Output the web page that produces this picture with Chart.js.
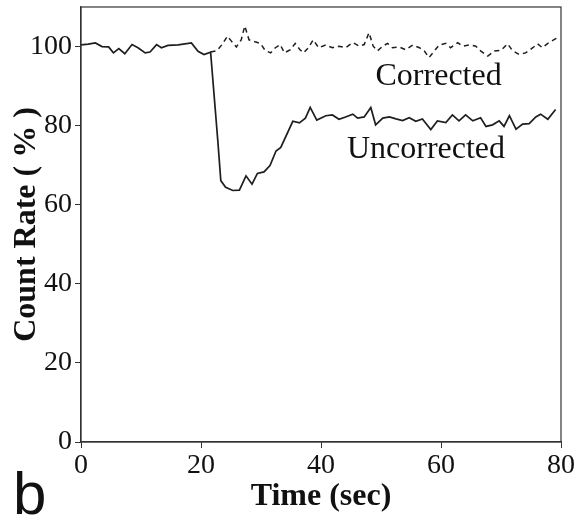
<!DOCTYPE html>
<html>
<head>
<meta charset="utf-8">
<script src="https://cdn.jsdelivr.net/npm/chart.js@4/dist/chart.umd.min.js"></script>
<style>
  html, body { margin: 0; padding: 0; background: #fff; }
  #wrap { width: 587px; height: 519px; }
</style>
</head>
<body>
<div id="wrap"><canvas id="countChart" width="587" height="519"></canvas></div>
<script>
// Uncorrected count rate (solid line)
const tiempoSinCorregir = [0, 1.2, 2.4, 3.5, 4.6, 5.4, 6.3, 7.3, 8.5, 9.5, 10.7, 11.5, 12.6, 13.4, 14.5, 16.2, 18.4, 19.5, 20.5, 21.6,
  22.8, 23.3, 24.1, 25.3, 26.4, 27.5, 28.5, 29.4, 30.5, 31.5, 32.5, 33.3, 35.3, 36.4, 37.4, 38.2, 39.3, 40.8, 41.9, 43.0,
  44.1, 45.3, 46.1, 47.2, 48.3, 49.1, 50.3, 51.4, 52.5, 53.6, 54.7, 55.8, 56.9, 58.3, 59.4, 60.8, 61.9, 63.0, 64.1, 65.3,
  66.6, 67.5, 68.6, 69.7, 70.5, 71.4, 72.5, 73.6, 74.7, 75.8, 76.6, 77.8, 79.1];
const sinCorregir = [100.4, 100.6, 100.9, 100.0, 99.9, 98.4, 99.5, 98.2, 100.5, 99.7, 98.4, 98.6, 100.5, 99.7, 100.3, 100.4, 100.9, 98.8, 98.0, 98.6,
  76.2, 66.1, 64.4, 63.6, 63.7, 67.3, 65.2, 67.9, 68.3, 69.9, 73.6, 74.5, 81.1, 80.7, 81.9, 84.6, 81.4, 82.5, 82.7, 81.6,
  82.2, 82.9, 81.9, 82.2, 84.6, 80.2, 81.9, 82.2, 81.7, 81.3, 82.0, 81.1, 81.7, 79.0, 81.2, 80.8, 82.7, 81.2, 82.7, 81.2,
  82.0, 79.8, 80.2, 81.2, 79.8, 82.5, 79.1, 80.4, 80.5, 82.2, 82.9, 81.6, 84.1];

// Corrected count rate (dashed line), branches off at ~21.6 s
const tiempoCorregido = [21.6, 22.7, 23.5, 24.4, 25.0, 25.9, 26.7, 27.3, 28.0, 29.0, 29.9, 30.7, 31.6, 32.4, 33.2, 33.9, 34.9, 35.7, 36.5, 37.1,
  37.9, 38.7, 39.6, 40.8, 41.9, 43.0, 44.1, 45.3, 46.4, 47.2, 48.0, 48.7, 49.4, 50.3, 51.1, 51.9, 53.0, 54.1, 55.3, 56.4,
  57.2, 58.0, 58.9, 59.7, 60.8, 61.6, 62.8, 63.6, 64.7, 65.8, 66.6, 67.8, 68.9, 70.0, 71.1, 71.9, 73.0, 74.1, 75.3, 76.1,
  76.9, 77.8, 78.9, 79.6];
const corregido = [98.6, 99.0, 100.5, 102.6, 101.5, 99.9, 101.7, 105.2, 101.7, 101.2, 100.8, 99.0, 98.4, 99.7, 100.5, 98.4, 99.2, 100.8, 99.2, 98.4,
  99.7, 101.7, 99.7, 100.4, 99.7, 100.1, 99.7, 101.0, 100.1, 100.5, 103.5, 100.1, 98.9, 100.1, 100.8, 99.7, 99.9, 99.2, 100.4, 99.7,
  98.9, 97.2, 98.9, 100.4, 100.8, 99.7, 101.0, 100.1, 100.4, 100.1, 98.9, 97.6, 98.9, 99.0, 100.7, 99.0, 98.0, 98.4, 99.7, 100.7,
  99.7, 100.8, 101.8, 102.4];

const ticksX = [0, 20, 40, 60, 80];
const ticksY = [0, 20, 40, 60, 80, 100];

const puntos = (xs, ys) => xs.map((x, i) => ({ x: x, y: ys[i] }));

const colorTinta = '#1e1e1e';

// marco completo y textos sueltos
const extras = {
  id: 'extras',
  afterDraw(chart) {
    const { ctx, chartArea } = chart;
    const xs = chart.scales.x, ys = chart.scales.y;
    ctx.save();
    ctx.strokeStyle = '#333';
    ctx.lineWidth = 1.2;
    ctx.strokeRect(chartArea.left, chartArea.top, chartArea.right - chartArea.left, chartArea.bottom - chartArea.top);

    ctx.fillStyle = '#111';
    ctx.textAlign = 'center';
    ctx.textBaseline = 'alphabetic';
    ctx.font = '32px "Liberation Serif", "Times New Roman", serif';
    ctx.fillText('Corrected', xs.getPixelForValue(59.6), ys.getPixelForValue(90.4));
    ctx.fillText('Uncorrected', xs.getPixelForValue(57.5), ys.getPixelForValue(71.9));

    ctx.textAlign = 'left';
    ctx.font = '60px "Liberation Sans", Arial, sans-serif';
    ctx.fillText('b', 13, 514);
    ctx.restore();
  }
};

const ctx = document.getElementById('countChart').getContext('2d');

window.myChart = new Chart(ctx, {
  type: 'line',
  data: {
    datasets: [{
      label: 'Uncorrected',
      data: puntos(tiempoSinCorregir, sinCorregir),
      borderColor: colorTinta,
      borderWidth: 1.7,
      pointRadius: 0,
      tension: 0
    }, {
      label: 'Corrected',
      data: puntos(tiempoCorregido, corregido),
      borderColor: colorTinta,
      borderWidth: 1.5,
      borderDash: [5, 4],
      pointRadius: 0,
      tension: 0
    }]
  },
  options: {
    responsive: false,
    animation: false,
    layout: { padding: { top: 7, right: 26, left: 0, bottom: 0 } },
    plugins: { legend: { display: false }, tooltip: { enabled: false } },
    scales: {
      x: {
        type: 'linear',
        min: 0,
        max: 80,
        afterFit: (s) => { s.height = 77; s.paddingLeft = 0; s.paddingRight = 0; },
        afterBuildTicks: (s) => { s.ticks = ticksX.map(v => ({ value: v })); },
        border: { display: true, color: '#333', width: 1.2 },
        grid: { display: true, drawOnChartArea: false, drawTicks: true, tickLength: 6, color: '#333' },
        ticks: {
          color: '#111',
          padding: 1,
          maxRotation: 0,
          font: { family: '"Liberation Serif", "Times New Roman", serif', size: 28 }
        },
        title: {
          display: true,
          text: 'Time (sec)',
          color: '#111',
          padding: { top: 0, bottom: 3 },
          font: { family: '"Liberation Serif", "Times New Roman", serif', size: 32, weight: 'bold' }
        }
      },
      y: {
        min: 0,
        max: 110,
        afterFit: (s) => { s.width = 81; s.paddingTop = 0; s.paddingBottom = 0; },
        afterBuildTicks: (s) => { s.ticks = ticksY.map(v => ({ value: v })); },
        border: { display: true, color: '#333', width: 1.2 },
        grid: { display: true, drawOnChartArea: false, drawTicks: true, tickLength: 6, color: '#333' },
        ticks: {
          color: '#111',
          padding: 3,
          font: { family: '"Liberation Serif", "Times New Roman", serif', size: 28 }
        },
        title: {
          display: true,
          text: 'Count Rate ( % )',
          color: '#111',
          padding: { top: 8, bottom: 0 },
          font: { family: '"Liberation Serif", "Times New Roman", serif', size: 32, weight: 'bold' }
        }
      }
    }
  },
  plugins: [extras]
});
</script>
</body>
</html>
